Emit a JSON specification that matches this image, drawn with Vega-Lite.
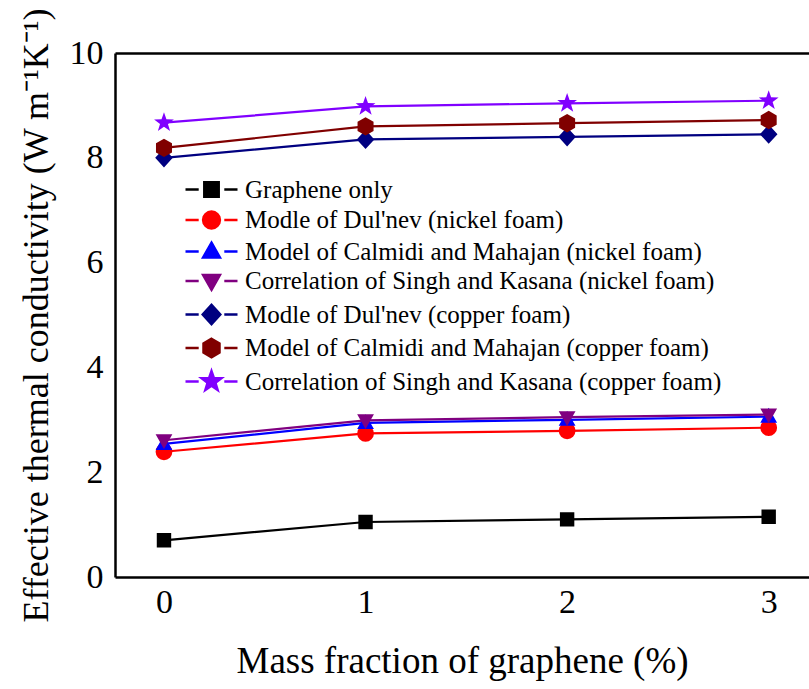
{
  "$schema": "https://vega.github.io/schema/vega-lite/v6.json",
  "width": 694,
  "height": 524,
  "autosize": {"type": "none"},
  "padding": {"left": 115, "top": 53, "right": 0, "bottom": 112},
  "background": "white",
  "config": {
    "view": {"stroke": null},
    "axis": {
      "grid": false,
      "domainColor": "black",
      "domainWidth": 2.5,
      "tickColor": "black",
      "tickWidth": 2,
      "labelFont": "Liberation Serif",
      "labelFontSize": 34,
      "labelColor": "black",
      "titleFont": "Liberation Serif",
      "titleFontWeight": "normal",
      "titleColor": "black"
    },
    "legend": {
      "title": null,
      "orient": "none",
      "legendX": 59,
      "legendY": 124,
      "padding": 0,
      "symbolSize": 256,
      "symbolOffset": 25,
      "labelOffset": 21,
      "labelFont": "Liberation Serif",
      "labelFontSize": 25,
      "labelColor": "black",
      "labelLimit": 700,
      "rowPadding": 3.5,
      "symbolStrokeWidth": 2.5
    }
  },
  "data": {
    "values": [
      {"series": "Graphene only", "x": 0, "y": 0.70},
      {"series": "Graphene only", "x": 1, "y": 1.05},
      {"series": "Graphene only", "x": 2, "y": 1.10},
      {"series": "Graphene only", "x": 3, "y": 1.15},
      {"series": "Modle of Dul'nev (nickel foam)", "x": 0, "y": 2.39},
      {"series": "Modle of Dul'nev (nickel foam)", "x": 1, "y": 2.74},
      {"series": "Modle of Dul'nev (nickel foam)", "x": 2, "y": 2.79},
      {"series": "Modle of Dul'nev (nickel foam)", "x": 3, "y": 2.85},
      {"series": "Model of Calmidi and Mahajan (nickel foam)", "x": 0, "y": 2.54},
      {"series": "Model of Calmidi and Mahajan (nickel foam)", "x": 1, "y": 2.94},
      {"series": "Model of Calmidi and Mahajan (nickel foam)", "x": 2, "y": 3.00},
      {"series": "Model of Calmidi and Mahajan (nickel foam)", "x": 3, "y": 3.06},
      {"series": "Correlation of Singh and Kasana (nickel foam)", "x": 0, "y": 2.61},
      {"series": "Correlation of Singh and Kasana (nickel foam)", "x": 1, "y": 2.99},
      {"series": "Correlation of Singh and Kasana (nickel foam)", "x": 2, "y": 3.05},
      {"series": "Correlation of Singh and Kasana (nickel foam)", "x": 3, "y": 3.10},
      {"series": "Modle of Dul'nev (copper foam)", "x": 0, "y": 8.00},
      {"series": "Modle of Dul'nev (copper foam)", "x": 1, "y": 8.35},
      {"series": "Modle of Dul'nev (copper foam)", "x": 2, "y": 8.40},
      {"series": "Modle of Dul'nev (copper foam)", "x": 3, "y": 8.45},
      {"series": "Model of Calmidi and Mahajan (copper foam)", "x": 0, "y": 8.19},
      {"series": "Model of Calmidi and Mahajan (copper foam)", "x": 1, "y": 8.60},
      {"series": "Model of Calmidi and Mahajan (copper foam)", "x": 2, "y": 8.66},
      {"series": "Model of Calmidi and Mahajan (copper foam)", "x": 3, "y": 8.72},
      {"series": "Correlation of Singh and Kasana (copper foam)", "x": 0, "y": 8.67},
      {"series": "Correlation of Singh and Kasana (copper foam)", "x": 1, "y": 8.98},
      {"series": "Correlation of Singh and Kasana (copper foam)", "x": 2, "y": 9.04},
      {"series": "Correlation of Singh and Kasana (copper foam)", "x": 3, "y": 9.09}
    ]
  },
  "resolve": {"axis": {"x": "independent", "y": "independent"}},
  "layer": [
    {
      "mark": {"type": "line", "strokeWidth": 2.2},
      "encoding": {
        "x": {
          "field": "x", "type": "quantitative",
          "scale": {"domain": [-0.243, 3.2], "nice": false, "zero": false},
          "axis": {
            "orient": "bottom",
            "title": "Mass fraction of graphene (%)",
            "titleFontSize": 37,
            "titlePadding": 24,
            "values": [0, 0.5, 1, 1.5, 2, 2.5, 3],
            "labelExpr": "datum.value % 1 ? '' : format(datum.value, 'd')",
            "labelFont": "Liberation Serif",
            "tickSize": 0,
            "labelPadding": 8,
            "encode": {"ticks": {"update": {"y2": {"signal": "datum.value % 1 ? -4 : -9"}}}}
          }
        },
        "y": {
          "field": "y", "type": "quantitative",
          "scale": {"domain": [0, 10], "nice": false, "zero": true},
          "axis": {
            "orient": "left",
            "title": "Effective thermal conductivity (W m⁻¹K⁻¹)",
            "titleFontSize": 36,
            "titlePadding": 14,
            "values": [0, 1, 2, 3, 4, 5, 6, 7, 8, 9, 10],
            "labelExpr": "datum.value % 2 ? '' : format(datum.value, 'd')",
            "labelFont": "Liberation Serif",
            "tickSize": 0,
            "labelPadding": 12,
            "encode": {"ticks": {"update": {"x2": {"signal": "datum.value % 2 ? 5 : 10"}}}}
          }
        },
        "stroke": {
          "field": "series", "type": "nominal",
          "scale": {
            "domain": ["Graphene only", "Modle of Dul'nev (nickel foam)", "Model of Calmidi and Mahajan (nickel foam)", "Correlation of Singh and Kasana (nickel foam)", "Modle of Dul'nev (copper foam)", "Model of Calmidi and Mahajan (copper foam)", "Correlation of Singh and Kasana (copper foam)"],
            "range": ["#000000", "#FF0000", "#0000FF", "#800080", "#000080", "#800000", "#8000FF"]
          }
        }
      }
    },
    {
      "mark": {"type": "point", "filled": true, "opacity": 1, "size": 256},
      "encoding": {
        "x": {
          "field": "x", "type": "quantitative",
          "axis": {
            "orient": "top",
            "title": null,
            "labels": false,
            "values": [0, 0.5, 1, 1.5, 2, 2.5, 3],
            "tickSize": 0,
            "encode": {"ticks": {"update": {"y2": {"signal": "datum.value % 1 ? 4 : 9"}}}}
          }
        },
        "y": {"field": "y", "type": "quantitative", "axis": null},
        "fill": {
          "field": "series", "type": "nominal",
          "scale": {
            "domain": ["Graphene only", "Modle of Dul'nev (nickel foam)", "Model of Calmidi and Mahajan (nickel foam)", "Correlation of Singh and Kasana (nickel foam)", "Modle of Dul'nev (copper foam)", "Model of Calmidi and Mahajan (copper foam)", "Correlation of Singh and Kasana (copper foam)"],
            "range": ["#000000", "#FF0000", "#0000FF", "#800080", "#000080", "#800000", "#8000FF"]
          }
        },
        "shape": {
          "field": "series", "type": "nominal",
          "scale": {
            "domain": ["Graphene only", "Modle of Dul'nev (nickel foam)", "Model of Calmidi and Mahajan (nickel foam)", "Correlation of Singh and Kasana (nickel foam)", "Modle of Dul'nev (copper foam)", "Model of Calmidi and Mahajan (copper foam)", "Correlation of Singh and Kasana (copper foam)"],
            "range": [
              "M-3.25,0H-1.6M1.6,0H3.25M-0.9,-0.9H0.9V0.9H-0.9Z",
              "M-3.25,0H-1.6M1.6,0H3.25M1.05,0L0.97,0.402L0.742,0.742L0.402,0.97L0,1.05L-0.402,0.97L-0.742,0.742L-0.97,0.402L-1.05,0L-0.97,-0.402L-0.742,-0.742L-0.402,-0.97L0,-1.05L0.402,-0.97L0.742,-0.742L0.97,-0.402Z",
              "M-3.25,0H-1.6M1.6,0H3.25M0,-1.1L1.05,0.75L-1.05,0.75Z",
              "M-3.25,0H-1.6M1.6,0H3.25M0,1.1L1.05,-0.75L-1.05,-0.75Z",
              "M-3.25,0H-1.6M1.6,0H3.25M0,-1.2L1.1,0L0,1.2L-1.1,0Z",
              "M-3.25,0H-1.6M1.6,0H3.25M0,-1.15L1,-0.58L1,0.58L0,1.15L-1,0.58L-1,-0.58Z",
              "M-3.25,0H-1.6M1.6,0H3.25M0,-1.3L0.305,-0.42L1.236,-0.402L0.494,0.161L0.764,1.052L0,0.52L-0.764,1.052L-0.494,0.161L-1.236,-0.402L-0.305,-0.42Z"
            ]
          }
        }
      }
    }
  ]
}
